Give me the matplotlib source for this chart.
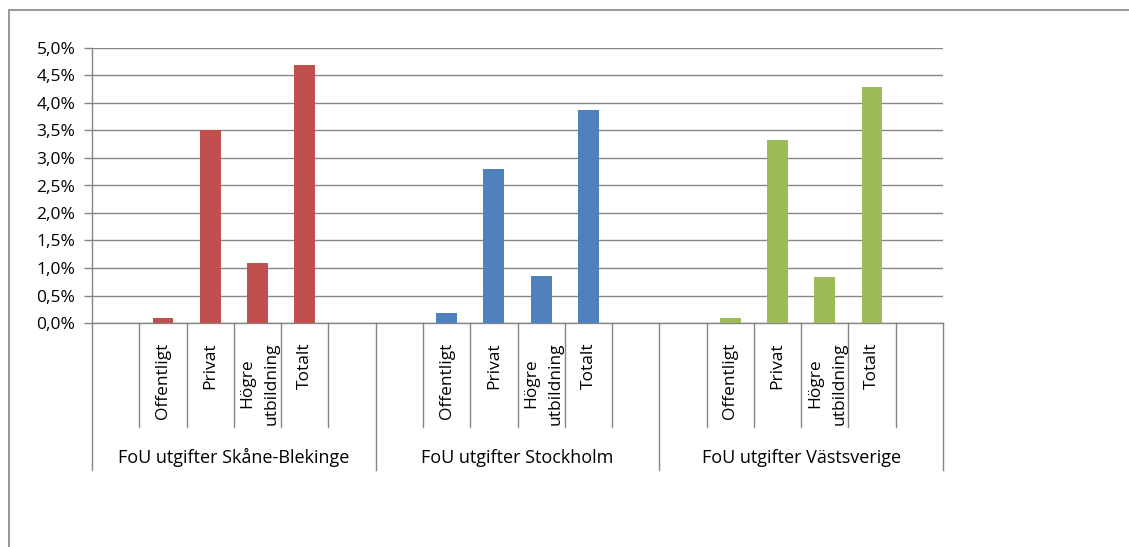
import matplotlib
matplotlib.use("Agg")
import matplotlib.pyplot as plt
from matplotlib.patches import Rectangle
from matplotlib.ticker import FuncFormatter

plt.rcParams['font.family'] = ['Open Sans', 'DejaVu Sans']

groups = ["FoU utgifter Skåne-Blekinge", "FoU utgifter Stockholm", "FoU utgifter Västsverige"]
categories = ["", "Offentligt", "Privat", "Högre\nutbildning", "Totalt", ""]
skane = [None, 0.09, 3.51, 1.10, 4.69, None]
stockholm = [None, 0.19, 2.80, 0.86, 3.87, None]
vastsverige = [None, 0.09, 3.33, 0.84, 4.29, None]
series = [skane, stockholm, vastsverige]
colors = ["#C0504D", "#4F81BD", "#9BBB59"]
yticks = [0.0, 0.5, 1.0, 1.5, 2.0, 2.5, 3.0, 3.5, 4.0, 4.5, 5.0]

W, H = 1129, 547
fig = plt.figure(figsize=(W / 100, H / 100), dpi=100)
ax = fig.add_axes([92 / W, (H - 323) / H, (943 - 92) / W, (323 - 48) / H])

grey = "#868686"
# outer chart frame
fig.patches.append(Rectangle((9 / W, -0.1), 1.2, 1.1 - 10 / H, transform=fig.transFigure,
                             fill=False, edgecolor=grey, linewidth=1.2))

n = len(categories)
for gi, vals in enumerate(series):
    for ci, v in enumerate(vals):
        if v is None:
            continue
        ax.bar(gi * n + ci, v, width=0.44, color=colors[gi], zorder=3)

ax.set_xlim(-0.5, len(groups) * n - 0.5)
ax.set_ylim(0, 5.0)
ax.set_yticks(yticks)
ax.yaxis.set_major_formatter(FuncFormatter(lambda v, p: f"{v:.1f}%".replace(".", ",")))
ax.tick_params(axis='y', length=6, width=1, color=grey, pad=6, labelsize=12.5, labelcolor="#000000")
ax.set_xticks([])
ax.grid(axis='y', color=grey, linewidth=1, zorder=0)
for s in ["top", "right"]:
    ax.spines[s].set_visible(False)
for s in ["left", "bottom"]:
    ax.spines[s].set_color(grey)
    ax.spines[s].set_linewidth(1)

tr = ax.get_xaxis_transform()
total = len(groups) * n
for b in range(total + 1):
    x = b - 0.5
    if b % n == 0:
        ax.plot([x, x], [0, -0.535], transform=tr, color=grey, lw=1, clip_on=False)
    else:
        ax.plot([x, x], [0, -0.378], transform=tr, color=grey, lw=1, clip_on=False)

for gi, g in enumerate(groups):
    for ci, c in enumerate(categories):
        if c:
            ax.text(gi * n + ci + (0.05 if "\n" in c else 0), -0.07, c, transform=tr,
                    rotation=90, ha='center', va='top',
                    fontsize=12.5, multialignment='center', linespacing=1.7)
    ax.text(gi * n + (n - 1) / 2, -0.49, g, transform=tr, ha='center', va='center', fontsize=13)

fig.savefig("out.png", dpi=100)
